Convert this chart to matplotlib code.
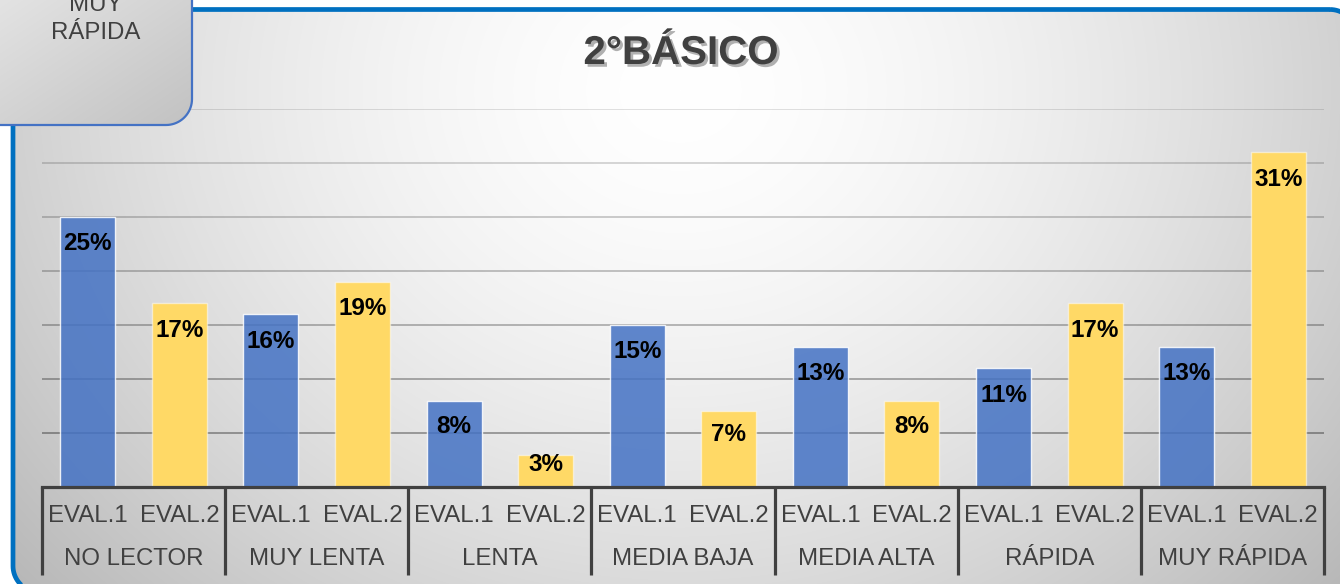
import numpy as np
import matplotlib
matplotlib.use("Agg")
import matplotlib.pyplot as plt
from matplotlib.patches import Polygon
import matplotlib.patheffects as pe
import matplotlib.transforms as mtransforms

plt.rcParams['font.family'] = ['Liberation Sans', 'DejaVu Sans']

# ---- data ----
categories = ["NO LECTOR", "MUY LENTA", "LENTA", "MEDIA BAJA", "MEDIA ALTA", "RÁPIDA", "MUY RÁPIDA"]
series_labels = ["EVAL.1", "EVAL.2"]
eval1 = [25, 16, 8, 15, 13, 11, 13]
eval2 = [17, 19, 3, 7, 8, 17, 31]
title = "2°BÁSICO"
corner_text = "MUY\nRÁPIDA"
y_max = 35
y_step = 5

W, H = 1340, 584


def rounded_rect(x0, y0, x1, y1, rad, **kw):
    pts = []
    t = np.linspace(0, np.pi / 2, 20)
    # corners in pixel coords (y down)
    for cx, cy, a0 in ((x1 - rad, y0 + rad, -np.pi / 2), (x1 - rad, y1 - rad, 0),
                       (x0 + rad, y1 - rad, np.pi / 2), (x0 + rad, y0 + rad, np.pi)):
        ang = a0 + t
        pts += list(zip(cx + rad * np.cos(ang), cy + rad * np.sin(ang)))
    return Polygon(pts, closed=True, **kw)


fig = plt.figure(figsize=(W / 100, H / 100), dpi=100)
fig.patch.set_facecolor('white')

# ---- background layer (pixel coords) ----
bg = fig.add_axes([0, 0, 1, 1])
bg.set_xlim(0, W)
bg.set_ylim(H, 0)
bg.axis('off')

yy, xx = np.mgrid[0:H, 0:W]
r = np.sqrt(((xx - 680) / 820.0) ** 2 + ((yy - 90) / 700.0) ** 2)
v = 1.0 - 0.25 * np.clip(r, 0, 1.2) ** 1.6
img = np.dstack([v, v, v])
im = bg.imshow(img, extent=(0, W, H, 0), zorder=1, interpolation='bilinear')
main_patch = rounded_rect(13, 9.5, 1356, 592, 26, fc='none', ec='#0070C0', lw=3.4, zorder=5)
bg.add_patch(main_patch)
im.set_clip_path(main_patch)
bg.set_xlim(0, W)
bg.set_ylim(H, 0)

bg.text(681, 53, title, ha='center', va='center', fontsize=29, fontweight='bold',
        color='#404040', zorder=6,
        path_effects=[pe.withSimplePatchShadow(offset=(2, -2), shadow_rgbFace='#000000', alpha=0.3)])

# ---- main axes ----
ax = fig.add_axes([42 / W, (H - 487) / H, 1282 / W, 378 / H])
ax.patch.set_alpha(0)
for s in ax.spines.values():
    s.set_visible(False)
ax.set_xticks([])
ax.set_yticks([])
n = len(categories)
ax.set_xlim(-0.5, 2 * n - 0.5)
ax.set_ylim(0, y_max)

levels = np.arange(y_step, y_max + 0.1, y_step)
for i, lv in enumerate(levels):
    a = 0.36 - 0.23 * i / (len(levels) - 1)
    ax.axhline(lv, color=(0, 0, 0, a), lw=1.3, zorder=1)

x1 = np.arange(n) * 2
x2 = np.arange(n) * 2 + 1
ax.bar(x1, eval1, width=0.6, color='#4472C4', alpha=0.85, edgecolor=(1, 1, 1, 0.5), lw=1, zorder=2)
ax.bar(x2, eval2, width=0.6, color='#FFD966', edgecolor=(1, 1, 1, 0.5), lw=1, zorder=2)

for xs, vals in ((x1, eval1), (x2, eval2)):
    for x, val in zip(xs, vals):
        ax.text(x, val - min(2.5, 0.3 * val), f"{val}%", ha='center', va='center',
                fontsize=17.5, fontweight='bold', color='black', zorder=4)

ax.axhline(0, color='#404040', lw=2.3, zorder=3, clip_on=False)
trans = mtransforms.blended_transform_factory(ax.transData, ax.transAxes)
for b in np.arange(n + 1) * 2 - 0.5:
    ax.plot([b, b], [0, -0.233], transform=trans, color='#404040', lw=2.3,
            clip_on=False, solid_capstyle='butt', zorder=3)
for g in range(n):
    for s_i, lab in enumerate(series_labels):
        ax.text(2 * g + s_i, -0.0767, lab, transform=trans, ha='center', va='center',
                fontsize=17.3, color='#404040')
    ax.text(2 * g + 0.5, -0.19, categories[g], transform=trans, ha='center', va='center',
            fontsize=17.3, color='#404040')

# ---- overlay box (top-left) ----
ov = fig.add_axes([0, 0, 1, 1])
ov.set_xlim(0, W)
ov.set_ylim(H, 0)
ov.axis('off')
ov.patch.set_alpha(0)
g2 = (xx / 190.0 + yy / 126.0) / 2.0
bv = 0.89 - 0.13 * np.clip(g2, 0, 1)
bimg = np.dstack([bv, bv, bv])
bim = ov.imshow(bimg, extent=(0, W, H, 0), zorder=1, interpolation='bilinear')
box = rounded_rect(-30, -40, 192, 125, 26, fc='none', ec='#4472C4', lw=1.6, zorder=5)
ov.add_patch(box)
bim.set_clip_path(box)
ov.text(96, 19, corner_text, ha='center', va='center', fontsize=17.3, color='#404040',
        linespacing=1.38, zorder=6)
ov.set_xlim(0, W)
ov.set_ylim(H, 0)

fig.savefig('out.png', dpi=100)
